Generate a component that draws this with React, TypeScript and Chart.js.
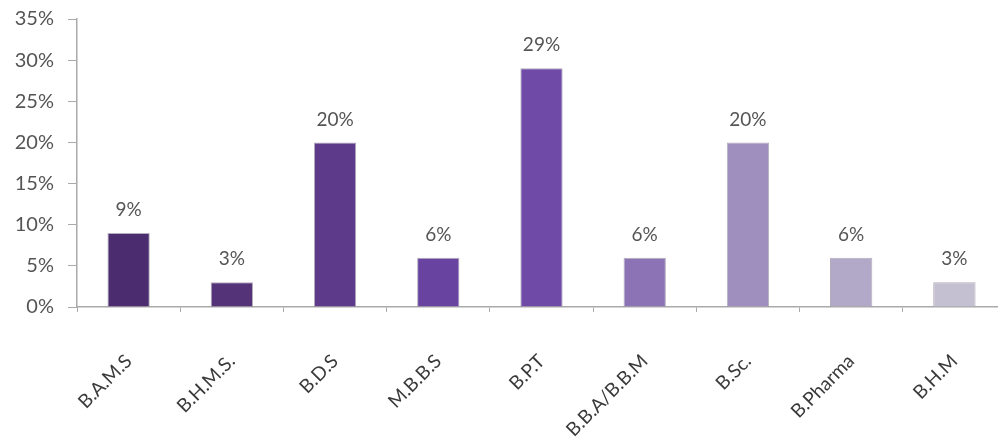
import React, { useEffect, useRef } from 'react';
import { Chart, ChartConfiguration, Plugin, registerables } from 'chart.js';

const courses = ['B.A.M.S', 'B.H.M.S.', 'B.D.S', 'M.B.B.S', 'B.P.T', 'B.B.A/B.B.M', 'B.Sc.', 'B.Pharma', 'B.H.M'];
const shares = [9, 3, 20, 6, 29, 6, 20, 6, 3];
const barColors = ['#4b2c6e', '#553379', '#5e3a8a', '#6843a0', '#6f4aa6', '#8b73b6', '#9f8fbe', '#b2a8c8', '#c4bfd1'];
const yTicks = [0, 5, 10, 15, 20, 25, 30, 35];

// draws the "9%" labels over each bar
const valueLabels: Plugin<'bar'> = {
  id: 'valueLabels',
  afterDatasetsDraw(chart) {
    const ctx = chart.ctx;
    const meta = chart.getDatasetMeta(0);
    ctx.save();
    ctx.font = '19px Lato, sans-serif';
    ctx.fillStyle = '#555';
    ctx.textAlign = 'center';
    ctx.textBaseline = 'middle';
    meta.data.forEach((bar, i) => {
      ctx.fillText(`${shares[i]}%`, bar.x, bar.y - 23);
    });
    ctx.restore();
  },
};

const App: React.FC = () => {
  const canvasRef = useRef<HTMLCanvasElement>(null);

  useEffect(() => {
    Chart.register(...registerables);
    if (!canvasRef.current) return;

    const config: ChartConfiguration<'bar'> = {
      type: 'bar',
      data: {
        labels: courses,
        datasets: [
          {
            data: shares,
            backgroundColor: barColors,
            borderColor: 'rgba(40, 20, 60, 0.35)',
            borderWidth: 1,
            barPercentage: 0.41,
            categoryPercentage: 1,
          },
        ],
      },
      options: {
        responsive: true,
        maintainAspectRatio: false,
        animation: false,
        layout: { padding: { top: 19, right: 4, left: 0, bottom: 0 } },
        plugins: {
          legend: { display: false },
          tooltip: { enabled: false },
        },
        scales: {
          x: {
            grid: {
              offset: true,
              drawOnChartArea: false,
              tickLength: 5,
              color: '#aaa',
            },
            border: { color: '#aaa', width: 1.5 },
            ticks: {
              minRotation: 45,
              maxRotation: 45,
              padding: 38,
              color: '#3a3a3a',
              font: { family: 'Lato, sans-serif', size: 19 },
            },
            afterFit: (scale) => {
              scale.height = 130;
            },
          },
          y: {
            min: 0,
            max: 35,
            afterBuildTicks: (scale) => {
              scale.ticks = yTicks.map((v) => ({ value: v }));
            },
            grid: {
              drawOnChartArea: false,
              tickLength: 9,
              color: '#aaa',
            },
            border: { color: '#aaa', width: 1.5 },
            ticks: {
              padding: 14,
              color: '#555',
              font: { family: 'Lato, sans-serif', size: 20 },
              callback: (v) => `${v}%`,
            },
            afterFit: (scale) => {
              scale.width = 77;
              // tick padding otherwise pushes the plot top down
              scale.paddingTop = 0;
              scale.paddingBottom = 0;
            },
          },
        },
      },
      plugins: [valueLabels],
    };

    const chart = new Chart(canvasRef.current, config);
    return () => {
      chart.destroy();
    };
  }, []);

  return (
    <div style={{ position: 'fixed', left: 0, top: 0, width: 998, height: 437, overflow: 'hidden', background: '#fff' }}>
      <div style={{ position: 'relative', width: 1010, height: 437 }}>
        <canvas ref={canvasRef} />
      </div>
    </div>
  );
};

export default App;
